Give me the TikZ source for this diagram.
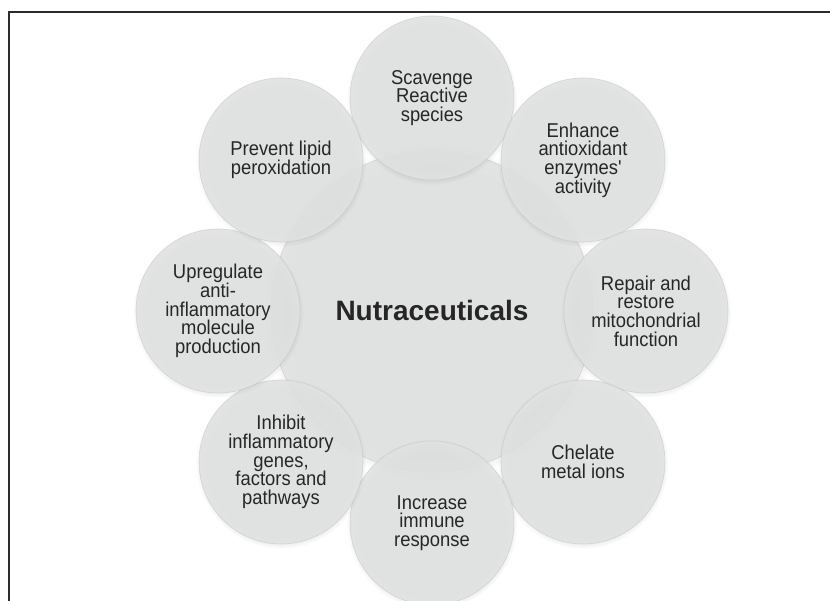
\documentclass[tikz,border=0pt]{standalone}
\usepackage{fontspec}
\setmainfont{Liberation Sans}
\newfontfamily\narrowsans{Liberation Sans}[FakeStretch=0.92]
\usetikzlibrary{shadows}
\definecolor{discgray}{RGB}{225,226,226}
\definecolor{rimgray}{RGB}{190,191,191}
\definecolor{framegray}{RGB}{45,45,45}
\tikzset{
  disc/.style={circle, minimum size=164pt, inner sep=0pt, align=center,
    fill=discgray, fill opacity=0.88, text opacity=1,
    draw=rimgray, draw opacity=0.55, line width=0.6pt,
    text=black!85, font=\narrowsans\fontsize{20}{18.7}\selectfont,
    circular drop shadow={shadow xshift=0pt, shadow yshift=-1.5pt, shadow scale=1.04, opacity=0.3}},
  hub/.style={disc, minimum size=322pt, font=\rmfamily\bfseries\fontsize{28}{30}\selectfont}
}
\begin{document}
\begin{tikzpicture}[x=1pt, y=1pt]
\useasboundingbox (0,0) rectangle (830,601);
% frame, cut at right and bottom
\draw [framegray, line width=1.5pt] (9,0) -- (9,589) -- (830,589);
% centre disc
\node [hub] (hub) at (432,290) {Nutraceuticals};
% ring of actions
\node [disc] (scavenge) at (432,503) {Scavenge\\Reactive\\species};
\node [disc] (enhance) at (583,441) {Enhance\\antioxidant\\enzymes'\\activity};
\node [disc] (repair) at (646,290) {Repair and\\restore\\mitochondrial\\function};
\node [disc] (chelate) at (583,139) {Chelate\\metal ions};
\node [disc] (immune) at (432,78) {Increase\\immune\\response};
\node [disc] (inhibit) at (281,139) {Inhibit\\inflammatory\\genes,\\factors and\\pathways};
\node [disc] (upregulate) at (218,290) {Upregulate\\anti-\\inflammatory\\molecule\\production};
\node [disc] (lipid) at (281,441) {Prevent lipid\\peroxidation};
\end{tikzpicture}
\end{document}
